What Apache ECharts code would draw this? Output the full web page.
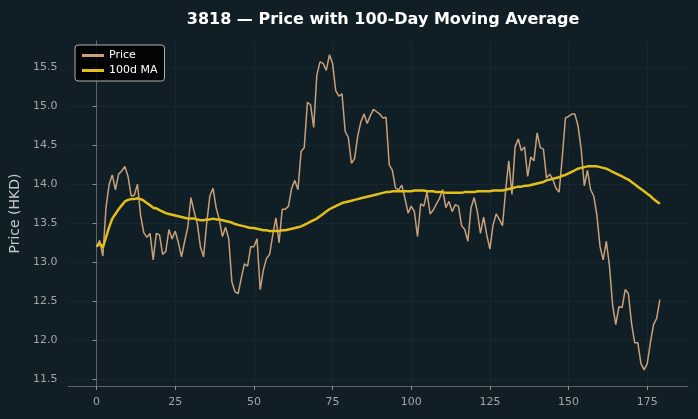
<!DOCTYPE html>
<html>
<head>
<meta charset="utf-8">
<script src="https://cdn.jsdelivr.net/npm/echarts@6/dist/echarts.min.js"></script>
<style>
html,body{margin:0;padding:0;background:#101f25;}
#c{width:698px;height:419px;}
</style>
</head>
<body>
<div id="c"></div>
<script>
const titleText = "3818 — Price with 100-Day Moving Average";
const seriesNames = ["Price", "100d MA"];
const xTicks = [0, 25, 50, 75, 100, 125, 150, 175];
const yTicks = [11.5, 12.0, 12.5, 13.0, 13.5, 14.0, 14.5, 15.0, 15.5];

const price = [
13.20,13.28,13.08,13.70,14.00,14.12,13.93,14.13,14.17,14.23,
14.10,13.85,13.86,14.00,13.60,13.38,13.32,13.37,13.03,13.37,
13.35,13.10,13.14,13.42,13.30,13.40,13.25,13.07,13.27,13.45,
13.83,13.65,13.50,13.20,13.07,13.50,13.85,13.95,13.70,13.55,
13.33,13.45,13.30,12.75,12.62,12.60,12.80,12.98,12.95,13.20,
13.20,13.30,12.65,12.90,13.05,13.10,13.35,13.57,13.25,13.68,
13.68,13.72,13.95,14.05,13.93,14.42,14.47,15.05,15.02,14.73,
15.40,15.57,15.55,15.46,15.66,15.55,15.20,15.13,15.16,14.68,
14.60,14.27,14.33,14.62,14.80,14.90,14.78,14.88,14.96,14.93,
14.90,14.85,14.86,14.25,14.18,13.95,13.93,13.99,13.82,13.63,
13.72,13.65,13.33,13.75,13.72,13.90,13.62,13.67,13.75,13.82,
13.93,13.70,13.78,13.65,13.74,13.72,13.47,13.42,13.27,13.70,
13.83,13.65,13.37,13.58,13.35,13.17,13.48,13.62,13.55,13.47,
13.92,14.30,13.87,14.48,14.58,14.43,14.48,14.10,14.35,14.30,
14.66,14.47,14.45,14.08,14.13,14.06,13.95,13.90,14.35,14.85,
14.87,14.90,14.90,14.75,14.45,13.98,14.18,13.93,13.85,13.60,
13.20,13.03,13.27,12.95,12.45,12.20,12.43,12.42,12.65,12.60,
12.22,11.97,11.97,11.70,11.62,11.70,11.97,12.20,12.28,12.52
];

const ma100 = [
13.20,13.24,13.19,13.32,13.45,13.56,13.62,13.68,13.73,13.78,
13.80,13.81,13.81,13.82,13.81,13.79,13.76,13.73,13.70,13.69,
13.67,13.65,13.63,13.62,13.61,13.60,13.59,13.58,13.57,13.56,
13.56,13.56,13.55,13.54,13.54,13.55,13.55,13.56,13.55,13.55,
13.54,13.53,13.52,13.51,13.49,13.48,13.47,13.46,13.45,13.44,
13.44,13.43,13.42,13.41,13.41,13.40,13.40,13.40,13.40,13.41,
13.41,13.42,13.43,13.44,13.45,13.46,13.48,13.50,13.52,13.54,
13.56,13.59,13.62,13.65,13.68,13.70,13.72,13.74,13.76,13.77,
13.78,13.79,13.80,13.81,13.82,13.83,13.84,13.85,13.86,13.87,
13.88,13.89,13.90,13.90,13.91,13.91,13.91,13.91,13.91,13.91,
13.91,13.92,13.92,13.92,13.92,13.91,13.91,13.91,13.90,13.90,
13.90,13.89,13.89,13.89,13.89,13.89,13.89,13.90,13.90,13.90,
13.90,13.91,13.91,13.91,13.91,13.91,13.92,13.92,13.92,13.92,
13.93,13.94,13.95,13.96,13.97,13.97,13.98,13.98,13.99,14.00,
14.01,14.02,14.03,14.05,14.06,14.07,14.08,14.09,14.11,14.12,
14.14,14.16,14.18,14.20,14.21,14.22,14.23,14.23,14.23,14.23,
14.22,14.21,14.20,14.18,14.16,14.14,14.12,14.10,14.08,14.06,
14.03,14.00,13.97,13.94,13.91,13.88,13.85,13.81,13.78,13.75
];

const priceData = price.map((v, i) => [i, v]);
const maData = ma100.map((v, i) => [i, v]);

const FONT = "DejaVu Sans";
const chart = echarts.init(document.getElementById('c'), null, {renderer: 'canvas'});
chart.setOption({
  backgroundColor: '#101f25',
  animation: false,
  title: {
    text: titleText,
    left: 378, top: 7, textAlign: 'center',
    textStyle: {color: '#ffffff', fontSize: 16, fontWeight: 'bold', fontFamily: FONT}
  },
  legend: {
    left: 75, top: 45, orient: 'vertical',
    backgroundColor: 'rgba(0,0,0,0.85)', borderColor: '#b0b0b0', borderWidth: 1, borderRadius: 3,
    padding: [5, 7, 5, 7], itemGap: 4, itemWidth: 22, itemHeight: 3,
    textStyle: {color: '#ffffff', fontSize: 11, fontFamily: FONT},
    data: [{name: seriesNames[0], icon: 'rect'}, {name: seriesNames[1], icon: 'rect'}]
  },
  grid: {left: 68, right: 10, top: 41, bottom: 33, containLabel: false},
  xAxis: {
    type: 'value', min: -8.95, max: 187.95,
    axisLine: {show: true, lineStyle: {color: '#5c6468'}},
    axisTick: {show: true, customValues: xTicks, length: 4, lineStyle: {color: '#8a9296'}},
    axisLabel: {customValues: xTicks, color: '#a0a6a9', fontSize: 11, fontFamily: FONT, margin: 11},
    splitLine: {show: true, lineStyle: {color: '#172730', width: 1}}
  },
  yAxis: {
    type: 'value', min: 11.414, max: 15.837,
    name: 'Price (HKD)', nameLocation: 'middle', nameGap: 44, nameRotate: 90,
    nameTextStyle: {color: '#c4c8ca', fontSize: 14, fontFamily: FONT},
    axisLine: {show: true, lineStyle: {color: '#5c6468'}},
    axisTick: {show: true, customValues: yTicks, length: 4, lineStyle: {color: '#8a9296'}},
    axisLabel: {customValues: yTicks, color: '#a0a6a9', fontSize: 11, fontFamily: FONT, margin: 11,
      formatter: v => v.toFixed(1)},
    splitLine: {show: true, lineStyle: {color: '#172730', width: 1}}
  },
  series: [
    {name: seriesNames[0], type: 'line', data: priceData, showSymbol: false, symbol: 'none',
     lineStyle: {color: '#c9a07a', width: 1.5}, itemStyle: {color: '#c9a07a'}, z: 2},
    {name: seriesNames[1], type: 'line', data: maData, showSymbol: false, symbol: 'none', smooth: false,
     lineStyle: {color: '#e3bf1a', width: 2.5}, itemStyle: {color: '#e3bf1a'}, z: 3}
  ]
});
</script>
</body>
</html>
